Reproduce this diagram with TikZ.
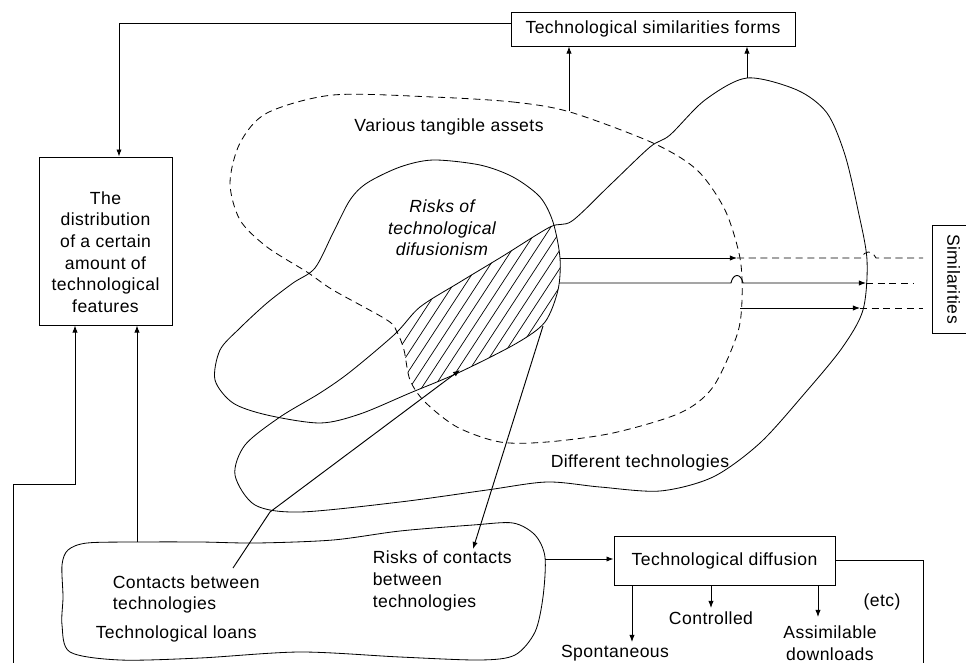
\documentclass[tikz,border=0pt]{standalone}
\usepackage{fontspec}
\setmainfont{Liberation Sans}[LetterSpace=2.5]
\usetikzlibrary{arrows.meta}

\begin{document}
\fontsize{15}{18.5}\selectfont
\begin{tikzpicture}[x=0.03cm, y=-0.03cm, line width=0.7pt,
	box/.style={draw, rectangle, line width=0.8pt, inner sep=2pt},
	arr/.style={->, >={Latex[length=6pt, width=4.5pt]}, line width=0.8pt},
	assetline/.style={dash pattern=on 6pt off 4pt}]
	\def \blobA {plot[smooth cycle] coordinates {(433,160) (480,165) (513,177) (540,197) (553,222) (560,258) (558,290) (545,322) (517,343) (460,372) (410,393) (360,414) (320,423) (267,415) (233,403) (215,380) (220,350) (240,328) (267,303) (293,283) (315,268) (333,233) (350,200) (367,183) (400,167)}}
	\def \blobB {plot[smooth cycle] coordinates {(280,417) (320,393) (350,372) (395,334) (420,307) (460,282) (503,256) (550,227) (572,221) (610,185) (650,147) (670,135) (705,100) (747,78) (797,90) (827,113) (845,155) (858,210) (867,260) (863,310) (842,348) (805,393) (760,443) (713,477) (660,491) (600,487) (547,482) (487,490) (400,502) (300,512) (255,505) (235,475) (245,445)}}
	\def \dashA {plot[smooth cycle] coordinates {(433,97) (513,102) (570,112) (653,143) (697,170) (725,210) (740,258) (742,300) (737,335) (713,387) (680,413) (613,433) (547,442) (500,442) (457,427) (425,402) (410,380) (404,350) (397,332) (387,320) (333,290) (307,272) (267,247) (240,220) (230,183) (240,143) (267,113) (333,95)}}
	\def \loans {plot[smooth cycle] coordinates {(87,543) (137,542) (200,542) (257,543) (333,540) (400,531) (473,525) (513,523) (535,535) (545,557) (543,597) (535,632) (515,655) (480,660) (400,657) (300,652) (200,658) (120,660) (70,652) (62,625) (63,597) (62,565) (68,550)}}

	\useasboundingbox (0,0) rectangle (966,663);

	% hatched overlap
	\begin{scope}
		\clip \blobA;
		\clip \blobB;
		\clip \dashA;
		\foreach \k in {0,...,22}
			\draw[line width=0.6pt] (320+\k*12,470) -- ++(170,-260);
	\end{scope}

	\draw \blobA;
	\draw \blobB;
	\draw[assetline] \dashA;
	\draw \loans;

	% boxes
	\node[box, minimum width=8.52cm, minimum height=1.02cm] (forms) at (653,29)
		{Technological similarities forms};
	\node[box, minimum width=3.99cm, minimum height=5.04cm] (distrib) at (105.5,241) {};
	\node[align=center] (distribtext) at (105.5,252)
		{The\\distribution\\of a certain\\amount of\\technological\\features};
	\node[box, minimum width=6.63cm, minimum height=1.47cm] (diffusion) at (724.5,560.5)
		{Technological diffusion};
	\node[box, rotate=-90, minimum width=3.24cm, minimum height=1.3cm] (similar) at (953.7,279)
		{Similarities};

	% labels
	\node (assets) at (449,127) {Various tangible assets};
	\node[align=center, font=\itshape] (risks) at (442,228)
		{Risks of\\technological\\difusionism};
	\node (different) at (640,463) {Different technologies};
	\node[align=left, anchor=west, inner sep=2pt] (contacts) at (110,594.5)
		{Contacts between\\technologies};
	\node[anchor=west, inner sep=2pt] (loanlabel) at (93,634) {Technological loans};
	\node[align=left, anchor=west, inner sep=2pt] (riskcontacts) at (370,581)
		{Risks of contacts\\between\\technologies};
	\node (spont) at (615,653) {Spontaneous};
	\node (controlled) at (711,618) {Controlled};
	\node[align=center] (assim) at (830,643.5) {Assimilable\\downloads};
	\node (etc) at (882,602) {(etc)};

	% connectors
	\coordinate (formsbend) at (119,23);
	\draw[arr] (forms.west |- formsbend) -- (formsbend) -- (distrib.north -| formsbend);
	\coordinate (assetstop) at (569,111);
	\draw[arr] (assetstop) -- (forms.south -| assetstop);
	\coordinate (techtop) at (747,78);
	\draw[arr] (techtop) -- (forms.south -| techtop);

	\coordinate (leftfoot) at (13,663);
	\coordinate (leftbend) at (75,484);
	\draw[arr] (leftfoot) |- (leftbend) -- (distrib.south -| leftbend);
	\coordinate (loanstop) at (137,542);
	\draw[arr] (loanstop) -- (distrib.south -| loanstop);

	\coordinate (contactfoot) at (233,568);
	\coordinate (contacttip) at (460,370);
	\draw[arr] (contactfoot) -- (270,512) -- (contacttip);
	\coordinate (hatchfoot) at (543,326);
	\coordinate (riskcontactstip) at (473,549);
	\draw[arr] (hatchfoot) -- (riskcontactstip);

	\coordinate (loansright) at (545,559);
	\draw[arr] (loansright) -- (diffusion.west |- loansright);
	\coordinate (rightfoot) at (923,663);
	\draw[line width=0.8pt] (diffusion.east) -| (rightfoot);

	\coordinate (spontx) at (632,642);
	\coordinate (controlledx) at (711,608);
	\coordinate (assimx) at (818,617);
	\draw[arr] (diffusion.south -| spontx) -- (spontx);
	\draw[arr] (diffusion.south -| controlledx) -- (controlledx);
	\draw[arr] (diffusion.south -| assimx) -- (assimx);

	% outputs towards similarities
	\coordinate (hatchtop) at (560,258);
	\coordinate (dashedge) at (737,258);
	\coordinate (simA) at (923,258);
	\draw[arr] (hatchtop) -- (dashedge);
	\draw[assetline] (dashedge) -- (862,258) .. controls (864,250) and (872,250) .. (876,258) -- (simA);
	\coordinate (hatchmid) at (559,283);
	\coordinate (techedge) at (866,283);
	\coordinate (simB) at (913,283);
	\draw[arr] (hatchmid) -- (731,283) .. controls (733,273) and (741,273) .. (743,283) -- (techedge);
	\draw[assetline] (techedge) -- (simB);
	\coordinate (dashmid) at (740,308);
	\coordinate (techedgelow) at (860,308);
	\coordinate (simC) at (923,308);
	\draw[arr] (dashmid) -- (techedgelow);
	\draw[assetline] (techedgelow) -- (simC);
\end{tikzpicture}
\end{document}
